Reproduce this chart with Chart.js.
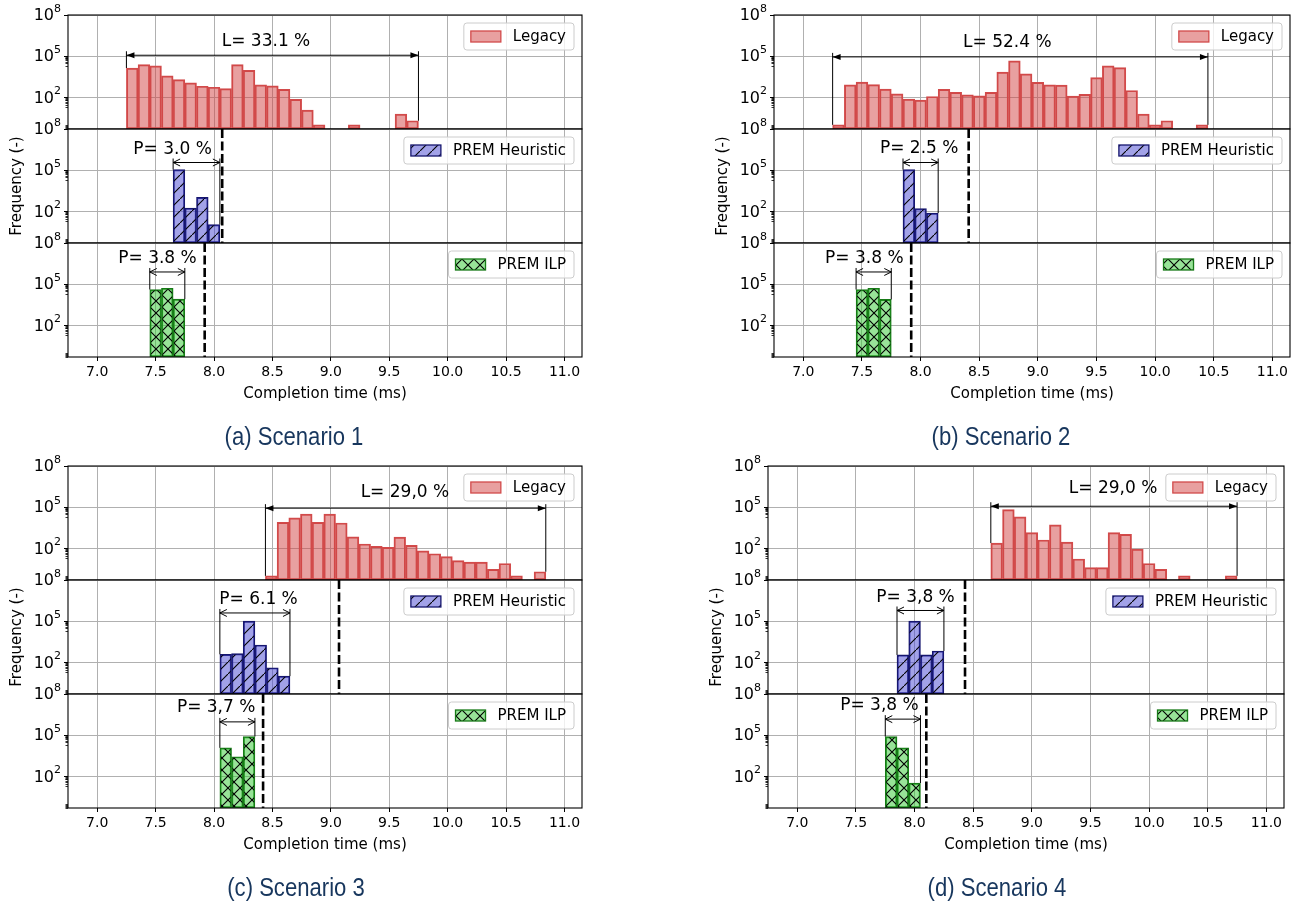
<!DOCTYPE html>
<html>
<head>
<meta charset="utf-8">
<script src="https://cdn.jsdelivr.net/npm/chart.js@4.4.1/dist/chart.umd.min.js"></script>
<style>
body { margin: 0; background: #fff; width: 1298px; height: 904px; position: relative; overflow: hidden; }
canvas { position: absolute; }
.cap { position: absolute; font-family: 'Liberation Sans', Arial, sans-serif; font-size: 26px; color: #17365d;
       transform: translate(-50%, -50%) scaleX(0.85); white-space: nowrap; }
</style>
</head>
<body>
<script>
// every histogram uses 0.1 ms bins
var binW = 0.1;

var captions = ['(a) Scenario 1', '(b) Scenario 2', '(c) Scenario 3', '(d) Scenario 4'];
var seriesNames = ['Legacy', 'PREM Heuristic', 'PREM ILP'];

// left edge of the first bin + count per bin
var legacyStart = [7.25, 7.25, 8.44, 8.65];
var legacyCounts = [
  [13800, 24500, 19500, 3700, 2000, 1140, 650, 550, 440, 24500, 9300, 810, 690, 390, 71, 12, 1, 0, 0, 1, 0, 0, 0, 6, 2],
  [1, 830, 1290, 870, 400, 182, 75, 64, 117, 380, 230, 156, 131, 230, 6900, 46000, 5200, 1230, 830, 780, 124, 165, 2800, 20000, 15000, 320, 6, 1, 2, 0, 0, 1],
  [1, 8000, 16600, 31000, 8000, 31000, 7100, 700, 210, 140, 118, 670, 165, 67, 41, 25, 13, 10, 10, 3, 8, 1, 0, 2],
  [245, 67000, 19600, 1400, 410, 5100, 290, 17, 4, 4, 1400, 1050, 90, 8, 3, 0, 1, 0, 0, 0, 1]
];
var heurStart = [7.65, 7.85, 8.05, 7.85];
var heurCounts = [
  [110000, 175, 1050, 11],
  [110000, 160, 76],
  [390, 430, 100000, 1860, 41, 10],
  [350, 100000, 350, 680]
];
var ilpStart = [7.45, 7.45, 8.05, 7.75];
var ilpCounts = [
  [41000, 51000, 8100],
  [41000, 51000, 7800],
  [12000, 2700, 80000],
  [80000, 12000, 33]
];

var legacyLabel = ['L= 33.1 %', 'L= 52.4 %', 'L= 29,0 %', 'L= 29,0 %'];
var heurLabel = ['P= 3.0 %', 'P= 2.5 %', 'P= 6.1 %', 'P= 3,8 %'];
var ilpLabel = ['P= 3.8 %', 'P= 3.8 %', 'P= 3,7 %', 'P= 3,8 %'];

// dashed lines (ms)
var heurLine = [8.07, 8.41, 9.07, 8.43];
var ilpLine = [7.92, 7.92, 8.42, 8.10];

var xTicks = [7.0, 7.5, 8.0, 8.5, 9.0, 9.5, 10.0, 10.5, 11.0];
var yTicks = [1e2, 1e5, 1e8];
var yTickExp = ['2', '5', '8'];
var minorTicks = [0.5, 0.6, 0.7, 0.8, 0.9, 20, 30, 40, 50, 60, 70, 80, 90, 2e4, 3e4, 4e4, 5e4, 6e4, 7e4, 8e4, 9e4];

// ---- layout (pixels) ----
var panelLeft = [68, 774, 68, 768];
var panelRight = [582, 1290, 582, 1284];
var panelTop = [15, 15, 466, 466];
var subH = 114;
var capX = [294, 1001, 296, 997];
var capY = [436, 436, 887, 887];
var PADL = 4, PADR = 14, PADT = 14, PADB = 14, YW = 64, XH = 50;

// annotation spots: [text x (ms), text log10 y, arrow log10 y]
var legacyNote = [[8.445, 6.03, 5.07], [8.74, 6.0, 4.95], [9.634, 6.05, 4.93], [9.693, 6.33, 5.07]];
var heurNote = [[7.645, 6.51, 5.56], [7.988, 6.58, 5.56], [8.381, 6.56, 5.6], [8.008, 6.75, 5.78]];
var ilpNote = [[7.516, 6.88, 5.89], [7.52, 6.88, 5.89], [8.018, 7.0, 5.97], [7.70, 7.18, 6.17]];

var fills = ['rgba(210,65,65,0.5)', 'rgba(70,70,210,0.5)', 'rgba(50,200,50,0.5)'];
var edges = ['#d24b4b', '#16166e', '#177a17'];
var hatchKind = ['', '/', 'x'];

Chart.defaults.font.family = "'DejaVu Sans', sans-serif";
Chart.defaults.color = '#000';

var patCtx = document.createElement('canvas').getContext('2d');
function hatch(fill, kind) {
  if (!kind) return fill;
  var s = 12, c = document.createElement('canvas');
  c.width = s; c.height = s;
  var g = c.getContext('2d');
  g.fillStyle = fill; g.fillRect(0, 0, s, s);
  g.strokeStyle = '#000'; g.lineWidth = 1.1;
  g.beginPath();
  g.moveTo(-2, s + 2); g.lineTo(s + 2, -2);
  if (kind === 'x') { g.moveTo(-2, -2); g.lineTo(s + 2, s + 2); }
  g.stroke();
  return patCtx.createPattern(c, 'repeat');
}

function head(ctx, x, y, dir, filled) {
  ctx.beginPath();
  if (filled) {
    ctx.moveTo(x, y); ctx.lineTo(x + dir * 8, y - 3); ctx.lineTo(x + dir * 8, y + 3); ctx.closePath(); ctx.fill();
  } else {
    ctx.moveTo(x + dir * 7, y - 3.5); ctx.lineTo(x, y); ctx.lineTo(x + dir * 7, y + 3.5); ctx.stroke();
  }
}

var notesPlugin = {
  id: 'notes',
  afterDatasetsDraw: function (chart, args, o) {
    var ctx = chart.ctx, a = chart.chartArea, xs = chart.scales.x, ys = chart.scales.y;
    ctx.save();
    ctx.strokeStyle = '#000'; ctx.fillStyle = '#000';

    // y tick labels 10^n
    yTicks.forEach(function (v, i) {
      var y = ys.getPixelForValue(v);
      ctx.font = "11px 'DejaVu Sans'";
      var ws = ctx.measureText(yTickExp[i]).width;
      ctx.font = "16px 'DejaVu Sans'";
      var wb = ctx.measureText('10').width;
      var x0 = a.left - 7 - ws - wb;
      ctx.textAlign = 'left'; ctx.textBaseline = 'middle';
      ctx.fillText('10', x0, y + 1);
      ctx.font = "11px 'DejaVu Sans'";
      ctx.fillText(yTickExp[i], x0 + wb, y - 6);
    });

    // minor ticks
    ctx.lineWidth = 0.8;
    ctx.beginPath();
    minorTicks.forEach(function (v) {
      var y = Math.round(ys.getPixelForValue(v)) + 0.5;
      ctx.moveTo(a.left - 2.5, y); ctx.lineTo(a.left, y);
    });
    ctx.stroke();

    // dashed line
    if (o.line != null) {
      var lx = xs.getPixelForValue(o.line);
      ctx.setLineDash([9, 3.5]); ctx.lineWidth = 2.6;
      ctx.beginPath(); ctx.moveTo(lx, a.top); ctx.lineTo(lx, a.bottom); ctx.stroke();
      ctx.setLineDash([]);
    }

    // range arrow
    var x1 = xs.getPixelForValue(o.from), x2 = xs.getPixelForValue(o.to);
    var ay = ys.getPixelForValue(Math.pow(10, o.note[2]));
    ctx.lineWidth = 1;
    ctx.beginPath();
    ctx.moveTo(x1, ay - 4); ctx.lineTo(x1, ys.getPixelForValue(o.firstCount));
    ctx.moveTo(x2, ay - 4); ctx.lineTo(x2, ys.getPixelForValue(o.lastCount));
    ctx.moveTo(x1, ay); ctx.lineTo(x2, ay);
    ctx.stroke();
    head(ctx, x1, ay, 1, o.filled);
    head(ctx, x2, ay, -1, o.filled);

    ctx.font = "17px 'DejaVu Sans'";
    ctx.textAlign = 'center'; ctx.textBaseline = 'middle';
    ctx.fillText(o.text, xs.getPixelForValue(o.note[0]), ys.getPixelForValue(Math.pow(10, o.note[1])));

    // frame
    ctx.lineWidth = 1.1;
    ctx.strokeRect(a.left, a.top, a.right - a.left, a.bottom - a.top);

    // legend
    ctx.font = "15px 'DejaVu Sans'";
    var tw = ctx.measureText(o.name).width;
    var bw = 7 + 30 + 12 + tw + 8, bh = 27;
    var bx = a.right - 8 - bw, by = a.top + 8;
    ctx.beginPath();
    ctx.roundRect(bx, by, bw, bh, 3);
    ctx.fillStyle = 'rgba(255,255,255,0.8)'; ctx.fill();
    ctx.strokeStyle = '#cccccc'; ctx.lineWidth = 1; ctx.stroke();
    var py = by + (bh - 11) / 2;
    ctx.fillStyle = '#fff'; ctx.fillRect(bx + 7, py, 30, 11);
    ctx.fillStyle = o.bg; ctx.fillRect(bx + 7, py, 30, 11);
    ctx.strokeStyle = o.edge; ctx.lineWidth = 1.3; ctx.strokeRect(bx + 7, py, 30, 11);
    ctx.fillStyle = '#000'; ctx.textAlign = 'left';
    ctx.fillText(o.name, bx + 7 + 30 + 12, by + bh / 2 + 1);
    ctx.restore();
  }
};

function makeSub(p, row, start, counts, text, note, line) {
  var bottomRow = row === 2;
  var W = panelRight[p] - panelLeft[p];
  var cw = PADL + YW + W + PADR;
  var ch = PADT + subH + (bottomRow ? XH : 0) + PADB;
  var cv = document.createElement('canvas');
  cv.width = cw; cv.height = ch;
  cv.style.width = cw + 'px'; cv.style.height = ch + 'px';
  cv.style.left = (panelLeft[p] - YW - PADL) + 'px';
  cv.style.top = (panelTop[p] + row * subH - PADT) + 'px';
  document.body.appendChild(cv);

  var pts = [];
  counts.forEach(function (c, i) {
    if (c > 0) pts.push({ x: start + binW * (i + 0.5), y: c });
  });
  var bg = hatch(fills[row], hatchKind[row]);

  new Chart(cv, {
    type: 'bar',
    data: {
      datasets: [{
        label: seriesNames[row],
        data: pts,
        backgroundColor: bg,
        borderColor: edges[row],
        borderWidth: 1.3,
        borderSkipped: false,
        grouped: false,
        barPercentage: 1,
        categoryPercentage: 1
      }]
    },
    options: {
      responsive: false,
      animation: false,
      events: [],
      layout: { padding: { left: PADL, right: PADR, top: PADT, bottom: PADB } },
      plugins: {
        legend: { display: false },
        tooltip: { enabled: false },
        notes: {
          text: text, note: note, line: line,
          from: start, to: start + binW * counts.length,
          firstCount: counts[0], lastCount: counts[counts.length - 1],
          filled: row === 0,
          name: seriesNames[row], bg: bg, edge: edges[row]
        }
      },
      scales: {
        x: {
          type: 'linear', min: 6.75, max: 11.15, offset: false,
          grid: { color: '#b0b0b0', offset: false, drawTicks: bottomRow, tickLength: 4, tickColor: '#000' },
          border: { display: false },
          ticks: {
            display: bottomRow, font: { size: 14 }, padding: 3, maxRotation: 0, autoSkip: false,
            callback: function (v) { return v.toFixed(1); }
          },
          title: { display: bottomRow, text: 'Completion time (ms)', font: { size: 15 }, padding: { top: 4, bottom: 4 } },
          afterBuildTicks: function (s) { s.ticks = xTicks.map(function (v) { return { value: v }; }); },
          afterFit: function (s) { s.height = bottomRow ? XH : 0; }
        },
        y: {
          type: 'logarithmic', min: 0.5, max: 1e8,
          grid: { color: '#b0b0b0', tickLength: 4, tickColor: '#000' },
          border: { display: false },
          ticks: { display: false },
          title: { display: row === 1, text: 'Frequency (-)', font: { size: 15 }, padding: { top: 4, bottom: 4 } },
          afterBuildTicks: function (s) { s.ticks = yTicks.map(function (v) { return { value: v }; }); },
          afterFit: function (s) { s.width = YW; }
        }
      }
    },
    plugins: [notesPlugin]
  });
}

for (var p = 0; p < 4; p++) {
  makeSub(p, 0, legacyStart[p], legacyCounts[p], legacyLabel[p], legacyNote[p], null);
  makeSub(p, 1, heurStart[p], heurCounts[p], heurLabel[p], heurNote[p], heurLine[p]);
  makeSub(p, 2, ilpStart[p], ilpCounts[p], ilpLabel[p], ilpNote[p], ilpLine[p]);
  var d = document.createElement('div');
  d.className = 'cap';
  d.textContent = captions[p];
  d.style.left = capX[p] + 'px';
  d.style.top = capY[p] + 'px';
  document.body.appendChild(d);
}
</script>
</body>
</html>
